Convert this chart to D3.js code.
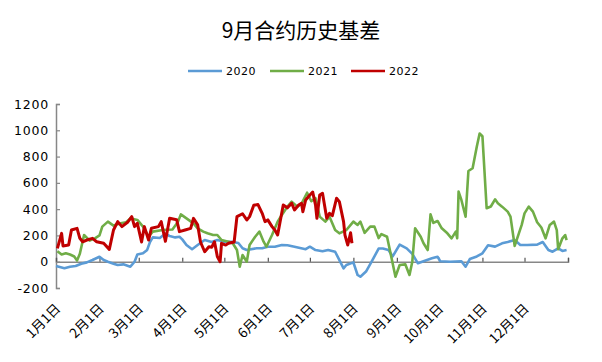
<!DOCTYPE html>
<html lang="zh">
<head>
<meta charset="UTF-8" />
<title>9月合约历史基差</title>
<script src="https://cdn.jsdelivr.net/npm/d3@7"></script>
<style>
  body { margin: 0; background: #fff; }
  svg { display: block; }
</style>
</head>
<body>
<script>
// x 轴按月日对齐，统一放到一个平年上
var monthLabels = ["1月1日","2月1日","3月1日","4月1日","5月1日","6月1日",
                   "7月1日","8月1日","9月1日","10月1日","11月1日","12月1日"];
var yTicks = [-200, 0, 200, 400, 600, 800, 1000, 1200];
var seriesNames = ["2020", "2021", "2022"];
var seriesColors = ["#5b9bd5", "#70ad47", "#c00000"];

var dates2020 = ["01-01","01-07","01-11","01-15","01-19","01-23","01-27","02-01","02-04","02-07",
  "02-11","02-14","02-18","02-23","02-26","02-28","03-04","03-07","03-09","03-11",
  "03-16","03-20","03-23","03-27","03-30","04-01","04-04","04-08","04-12","04-17",
  "04-22","04-26","05-01","05-06","05-11","05-14","05-17","05-24","05-28","06-01",
  "06-06","06-11","06-15","06-20","06-28","07-01","07-05","07-10","07-14","07-19",
  "07-25","07-27","08-01","08-04","08-06","08-10","08-14","08-19","08-22","08-26",
  "08-29","09-03","09-08","09-12","09-16","09-21","09-26","09-30","10-02","10-09",
  "10-17","10-20","10-23","10-28","11-01","11-05","11-10","11-15","11-19","11-24",
  "11-28","12-03","12-10","12-14","12-18","12-21","12-25","12-28","12-31"];
var values2020 = [-33,-50,-38,-33,-15,-5,13,38,13,0,
  -15,-25,-20,-38,0,55,64,90,150,185,
  180,215,195,185,190,170,127,95,127,165,
  150,165,152,152,142,102,89,102,102,114,
  114,127,125,114,95,114,89,80,89,76,
  -50,-25,-5,-101,-114,-75,0,100,100,89,
  40,130,102,60,-12,8,26,38,3,0,
  3,-38,20,40,64,125,115,140,150,165,
  127,127,130,150,89,76,102,82,89];

var dates2021 = ["01-02","01-05","01-08","01-11","01-14","01-16","01-18","01-21","01-25","01-29",
  "02-01","02-03","02-07","02-11","02-16","02-20","02-23","02-28","03-04","03-08",
  "03-11","03-18","03-25","03-29","03-31","04-04","04-09","04-12","04-16","04-19",
  "04-23","04-26","04-29","05-04","05-07","05-10","05-12","05-14","05-17","05-19",
  "05-23","05-26","05-29","05-31","06-04","06-08","06-11","06-15","06-18","06-22",
  "06-25","06-29","07-02","07-05","07-08","07-12","07-15","07-19","07-22","07-27",
  "08-01","08-04","08-06","08-09","08-13","08-16","08-19","08-21","08-25","08-27",
  "08-31","09-03","09-07","09-10","09-12","09-14","09-18","09-20","09-23","09-25",
  "09-27","09-30","10-03","10-07","10-10","10-13","10-14","10-15","10-17","10-20",
  "10-22","10-25","10-28","10-30","11-01","11-04","11-07","11-10","11-12","11-15",
  "11-19","11-21","11-24","11-29","12-01","12-04","12-07","12-10","12-13","12-16",
  "12-19","12-22","12-24","12-25","12-28","12-30","12-31"];
var values2021 = [80,55,64,55,40,10,60,203,160,180,
  200,267,305,275,292,300,330,318,267,190,
  229,241,245,305,360,330,292,254,229,216,
  203,203,165,152,140,89,-38,51,0,127,
  190,229,152,114,203,305,355,419,457,419,
  440,525,460,483,343,305,343,241,216,241,
  305,280,305,220,267,267,180,210,190,89,
  -114,-25,-20,-101,0,254,190,140,89,360,
  295,310,254,216,178,229,178,533,470,343,
  690,711,876,975,955,407,420,475,445,419,
  381,343,120,280,368,419,381,300,260,178,
  280,305,241,95,178,203,165];

var dates2022 = ["01-02","01-05","01-06","01-10","01-12","01-16","01-18","01-20","01-23","01-27",
  "01-30","02-04","02-08","02-11","02-14","02-17","02-21","02-24","02-26","02-28",
  "03-03","03-05","03-08","03-10","03-15","03-17","03-20","03-23","03-28","03-30",
  "04-03","04-07","04-09","04-12","04-14","04-17","04-20","04-22","04-24","04-26",
  "04-28","04-29","05-02","05-04","05-08","05-10","05-14","05-17","05-19","05-22",
  "05-25","05-28","05-30","06-01","06-04","06-06","06-08","06-10","06-12","06-15",
  "06-18","06-20","06-23","06-25","06-26","06-28","07-01","07-03","07-05","07-06",
  "07-08","07-10","07-13","07-15","07-17","07-20","07-22","07-25","07-26","07-28",
  "07-30","07-31"];
var values2022 = [102,216,120,127,241,254,178,152,165,178,
  152,140,94,241,305,267,300,343,267,292,
  150,267,165,254,267,305,155,330,320,229,
  241,254,330,280,150,76,114,110,152,40,
  0,140,127,140,150,343,365,318,343,430,
  435,368,305,318,267,241,203,318,432,410,
  445,394,432,445,380,470,508,530,432,330,
  508,521,330,368,350,483,457,305,203,127,
  220,140];

var W = 602, H = 362;
var parseMD = d3.timeParse("%Y-%m-%d");
function toPoints(dates, values) {
  return dates.map(function (d, i) {
    return { date: parseMD("2021-" + d), value: values[i] };
  });
}
var series = [
  toPoints(dates2020, values2020),
  toPoints(dates2021, values2021),
  toPoints(dates2022, values2022)
];

var svg = d3.select("body").append("svg").attr("width", W).attr("height", H);
svg.append("rect").attr("width", W).attr("height", H).attr("fill", "#fff");

var x = d3.scaleTime()
  .domain([new Date(2021, 0, 1), new Date(2022, 0, 1)])
  .range([56, 568]);
var y = d3.scaleLinear().domain([-200, 1200]).range([288, 104]);

// 标题
svg.append("text")
  .attr("x", 301).attr("y", 38)
  .attr("text-anchor", "middle")
  .attr("font-family", "'Noto Sans CJK SC', sans-serif")
  .attr("font-size", 21)
  .attr("fill", "#000")
  .text("9月合约历史基差");

// 图例
var legend = svg.append("g").attr("transform", "translate(0,71)");
var legendX = [188, 270, 351];
seriesNames.forEach(function (name, i) {
  legend.append("line")
    .attr("x1", legendX[i]).attr("x2", legendX[i] + 34)
    .attr("y1", 0).attr("y2", 0)
    .attr("stroke", seriesColors[i]).attr("stroke-width", 2.5);
  legend.append("text")
    .attr("x", legendX[i] + 38).attr("y", 4)
    .attr("font-family", "'DejaVu Sans', sans-serif")
    .attr("font-size", 11)
    .attr("letter-spacing", 0.5)
    .attr("fill", "#000")
    .text(name);
});

// y 轴
var yAxis = svg.append("g")
  .attr("transform", "translate(56,0)")
  .call(d3.axisLeft(y).tickValues(yTicks).tickSize(-4).tickPadding(7)
    .tickFormat(function (d) { return String(d); }));
yAxis.select(".domain").attr("stroke", "#878787").attr("stroke-width", 1.5);
yAxis.selectAll(".tick line").attr("stroke", "#878787").attr("stroke-width", 1.2);
yAxis.selectAll(".tick text")
  .attr("font-family", "'DejaVu Sans', sans-serif")
  .attr("font-size", 12.5)
  .attr("letter-spacing", 0.8)
  .attr("fill", "#000");

// x 轴（在 0 的位置）
var monthTicks = d3.timeMonth.range(new Date(2021, 0, 1), new Date(2022, 0, 2));
var xAxis = svg.append("g")
  .attr("transform", "translate(0," + y(0) + ")")
  .call(d3.axisBottom(x).tickValues(monthTicks).tickSize(-4).tickFormat(""));
xAxis.select(".domain").attr("stroke", "#878787").attr("stroke-width", 1.5);
xAxis.selectAll(".tick line").attr("stroke", "#555").attr("stroke-width", 1.2);

// 月份标签，斜 45 度
svg.append("g").selectAll("text")
  .data(monthLabels)
  .enter()
  .append("text")
  .attr("transform", function (d, i) {
    return "translate(" + (x(monthTicks[i]) + 2) + ",306) rotate(-45)";
  })
  .attr("text-anchor", "end")
  .attr("dy", "0.35em")
  .attr("font-family", "'Noto Sans CJK SC', sans-serif")
  .attr("font-size", 13.5)
  .attr("fill", "#000")
  .text(function (d) { return d; });

// 折线
var line = d3.line()
  .x(function (d) { return x(d.date); })
  .y(function (d) { return y(d.value); });

series.forEach(function (pts, i) {
  svg.append("path")
    .datum(pts)
    .attr("fill", "none")
    .attr("stroke", seriesColors[i])
    .attr("stroke-width", i == 2 ? 3 : 2.6)
    .attr("stroke-linejoin", "round")
    .attr("d", line);
});
</script>
</body>
</html>
